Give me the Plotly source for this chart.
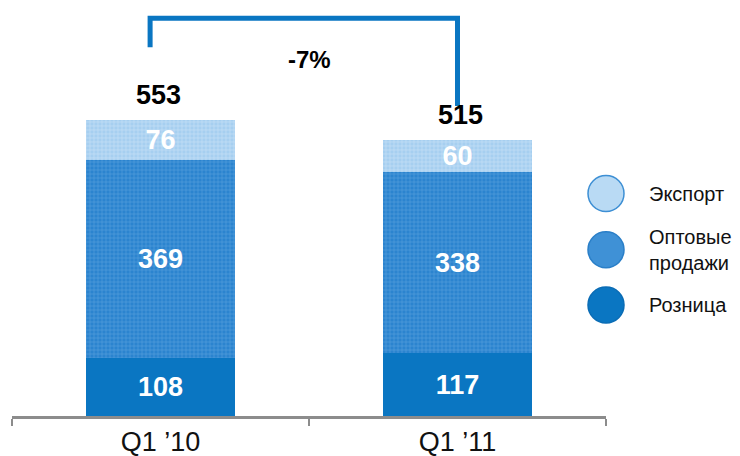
import plotly.graph_objects as go

categories = ["Q1 \u201910", "Q1 \u201911"]
series_names = ["Розница", "Оптовые продажи", "Экспорт"]
retail = [108, 117]
wholesale = [369, 338]
export = [76, 60]
totals = [553, 515]

BLUE = "#0a76c2"
FONT = "Arial, Liberation Sans, sans-serif"

x = list(range(len(categories)))

fig = go.Figure()

seg_styles = [
    dict(color=BLUE),
    dict(color="#2b84cf", pattern=dict(shape="+", bgcolor="#2b84cf", fgcolor="#7ab7e8",
                                       size=4, solidity=0.3)),
    dict(color="#a6cff0", pattern=dict(shape="+", bgcolor="#a6cff0", fgcolor="#dcedfa",
                                       size=4, solidity=0.35)),
]
for name, vals, st in zip(series_names, [retail, wholesale, export], seg_styles):
    fig.add_trace(go.Bar(
        x=x, y=vals, name=name, width=0.5,
        marker=dict(line=dict(width=0), **st),
        text=vals, texttemplate="%{text}",
        textposition="inside", insidetextanchor="middle", textangle=0,
        constraintext="none",
        textfont=dict(family=FONT, size=27, color="white", weight="bold"),
        showlegend=False, hoverinfo="skip",
    ))

# totals above the bars
for xi, t in zip(x, totals):
    fig.add_annotation(x=xi, y=t, text=f"<b>{t}</b>", showarrow=False,
                       yanchor="bottom", yshift=8, xshift=-2 if xi == 0 else 3,
                       font=dict(family=FONT, size=27, color="black"))

# change bracket
change = round((totals[1] - totals[0]) / totals[0] * 100)
y_top = 742
fig.add_shape(type="path",
              path=f"M -0.035,{totals[0] + 135} L -0.035,{y_top} L 1.0,{y_top} L 1.0,{totals[1] + 63}",
              line=dict(color=BLUE, width=5))
fig.add_annotation(x=0.5, y=665, text=f"<b>{change}%</b>", showarrow=False,
                   font=dict(family=FONT, size=24, color="black"))

# legend: circles drawn as markers plus text
leg_names = ["Экспорт", "Оптовые<br>продажи", "Розница"]
leg_y = [415, 310, 207]
leg_fill = ["#b9daf4", "#3f91d6", BLUE]
leg_line = ["#3d8fd4", "#2a7fc8", "#0a6cb5"]
fig.add_trace(go.Scatter(
    x=[1.5] * 3, y=leg_y, mode="markers",
    marker=dict(symbol="circle", size=36, color=leg_fill,
                line=dict(color=leg_line, width=1.5)),
    cliponaxis=False, showlegend=False, hoverinfo="skip",
))
for nm, yy in zip(leg_names, leg_y):
    fig.add_annotation(x=1.5, y=yy, text=nm, showarrow=False, xanchor="left",
                       xshift=41, align="left",
                       font=dict(family=FONT, size=20, color="#111111"))

# page body has an 8px margin, so the figure is sized to fit the window
fig.update_layout(
    width=732, height=448,
    barmode="stack",
    plot_bgcolor="white", paper_bgcolor="white",
    margin=dict(l=4, r=134, t=0, b=40),
    xaxis=dict(range=[-0.5, 1.5], tickvals=x, ticktext=categories, ticks="",
               showline=True, linecolor="#8c8c8c", linewidth=2.5, showgrid=False,
               zeroline=False, tickfont=dict(family=FONT, size=27, color="#111111"),
               minor=dict(tickvals=[-0.5, 0.5, 1.5], ticks="outside", ticklen=7,
                          tickcolor="#8c8c8c", tickwidth=2)),
    yaxis=dict(range=[0, 761], visible=False),
    showlegend=False,
)

fig.write_html("out.html")
